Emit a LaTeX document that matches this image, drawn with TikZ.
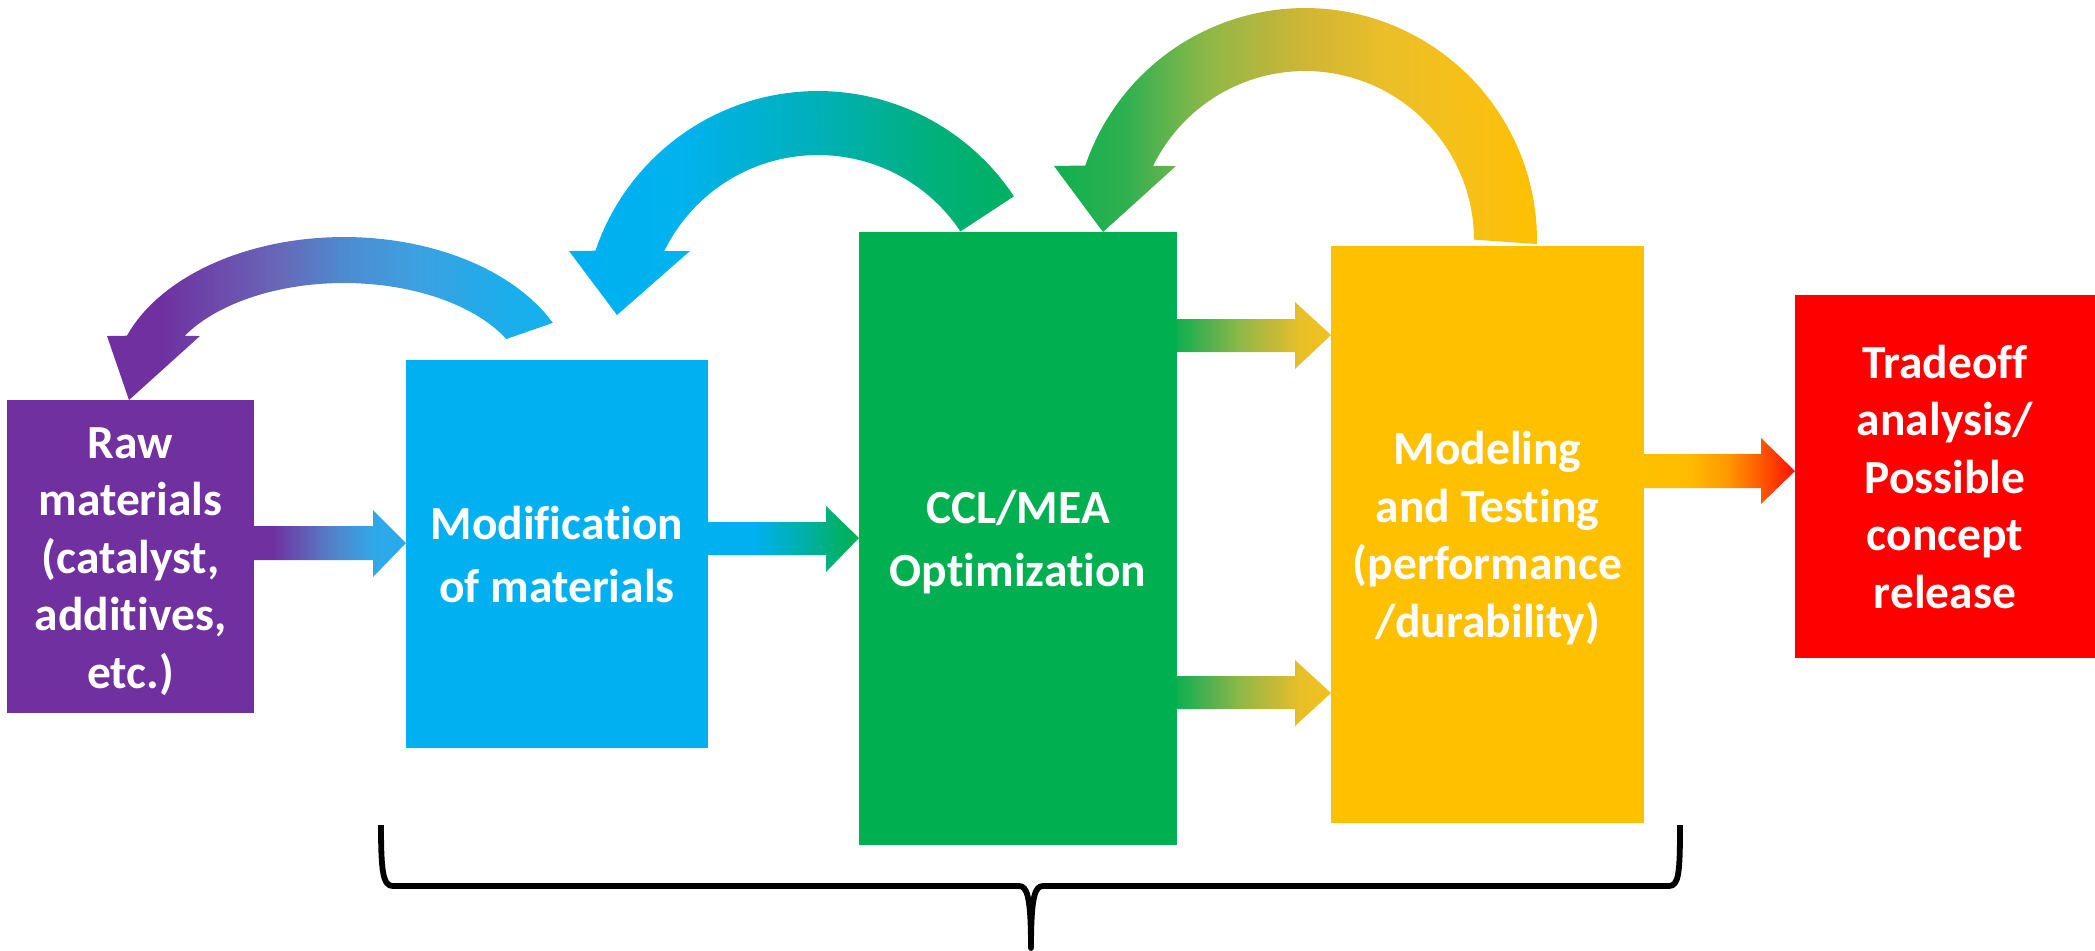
\documentclass[tikz,border=0pt]{standalone}
\usepackage{fontspec}
\setmainfont{Carlito}[Ligatures=CommonOff]
\definecolor{cpurple}{HTML}{7030A0}
\definecolor{cblue}{HTML}{00B0F0}
\definecolor{cgreen}{HTML}{00B050}
\definecolor{cyellow}{HTML}{FFC000}
\definecolor{cred}{HTML}{FF0000}
% gradient stops
\definecolor{pA2}{HTML}{5580C8}\definecolor{pA3}{HTML}{30A8E8}\definecolor{pA4}{HTML}{28AAEA}
\definecolor{bB2}{HTML}{00B0B0}\definecolor{bB3}{HTML}{00B062}\definecolor{bB4}{HTML}{00B058}
\definecolor{gC1}{HTML}{10B050}\definecolor{gC2}{HTML}{50B050}\definecolor{gC3}{HTML}{8CB848}
\definecolor{gC4}{HTML}{BDB93A}\definecolor{gC5}{HTML}{E8BF28}\definecolor{gC6}{HTML}{F2C020}
\definecolor{yD2}{HTML}{FFBC00}\definecolor{yD3}{HTML}{FF9800}\definecolor{yD4}{HTML}{FF6000}
\definecolor{yD5}{HTML}{FF3000}\definecolor{yD6}{HTML}{FF1000}
\definecolor{E2}{HTML}{6868B8}\definecolor{E3}{HTML}{4D8BD0}\definecolor{E4}{HTML}{3DA0E0}
\definecolor{E5}{HTML}{1AAEEC}\definecolor{E6}{HTML}{16B0EE}
\definecolor{F2}{HTML}{00B2EE}\definecolor{F3}{HTML}{00B0B8}\definecolor{F4}{HTML}{00B07C}\definecolor{F5}{HTML}{00B060}
\definecolor{G2}{HTML}{30B050}\definecolor{G3}{HTML}{90B848}\definecolor{G4}{HTML}{D0B535}
\definecolor{G5}{HTML}{EBBF28}\definecolor{G6}{HTML}{FAC012}
\pgfdeclarehorizontalshading{shA}{100bp}{color(0bp)=(cpurple); color(31bp)=(cpurple); color(50bp)=(pA2); color(64bp)=(pA3); color(75bp)=(pA4); color(100bp)=(pA4)}
\pgfdeclarehorizontalshading{shB}{100bp}{color(0bp)=(cblue); color(40bp)=(cblue); color(55bp)=(bB2); color(70bp)=(bB3); color(75bp)=(bB4); color(100bp)=(bB4)}
\pgfdeclarehorizontalshading{shC}{100bp}{color(0bp)=(gC1); color(25bp)=(gC1); color(35bp)=(gC2); color(45bp)=(gC3); color(55bp)=(gC4); color(65bp)=(gC5); color(75bp)=(gC6); color(100bp)=(gC6)}
\pgfdeclarehorizontalshading{shD}{100bp}{color(0bp)=(cyellow); color(25bp)=(cyellow); color(40bp)=(yD2); color(52.5bp)=(yD3); color(62.5bp)=(yD4); color(70bp)=(yD5); color(75bp)=(yD6); color(100bp)=(yD6)}
\pgfdeclarehorizontalshading{shE}{100bp}{color(0bp)=(cpurple); color(31bp)=(cpurple); color(44.5bp)=(E2); color(51.5bp)=(E3); color(59.5bp)=(E4); color(70bp)=(E5); color(75bp)=(E6); color(100bp)=(E6)}
\pgfdeclarehorizontalshading{shF}{100bp}{color(0bp)=(cblue); color(25bp)=(cblue); color(37.5bp)=(F2); color(53bp)=(F3); color(65.5bp)=(F4); color(75bp)=(F5); color(100bp)=(F5)}
\pgfdeclarehorizontalshading{shG}{100bp}{color(0bp)=(gC1); color(25bp)=(gC1); color(32.5bp)=(G2); color(41bp)=(G3); color(51bp)=(G4); color(59.5bp)=(G5); color(70bp)=(G6); color(75bp)=(cyellow); color(100bp)=(cyellow)}
\newcommand{\lnstrut}{\rule[-7pt]{0pt}{30.55pt}}
\tikzset{
  box/.style={inner sep=0pt, outer sep=0pt, text=white, align=center,
    font=\bfseries\fontsize{23.75}{28.75}\selectfont},
  brace/.style={line width=2.9pt, line join=round, draw=black}
}
\begin{document}
\begin{tikzpicture}[x=0.5pt, y=-0.5pt]
\useasboundingbox (0,0) rectangle (2095,950);

% boxes
\node[box, fill=cpurple, minimum width=123.5pt, minimum height=156.5pt] (raw) at (130.5,556.5)
  {\lnstrut Raw\\materials\\(catalyst,\\additives,\\etc.)\lnstrut};
\node[box, fill=cblue, minimum width=151pt, minimum height=194pt] (mod) at (557,554)
  {\lnstrut Modification\\of materials\lnstrut};
\node[box, fill=cgreen, minimum width=159pt, minimum height=306.5pt] (ccl) at (1018,538.5)
  {\lnstrut CCL/MEA\\Optimization\lnstrut};
\node[box, fill=cyellow, minimum width=156.5pt, minimum height=288.5pt] (model) at (1487.5,534.5)
  {\lnstrut Modeling\\and Testing\\(performance\\/durability)\lnstrut};
\node[box, fill=cred, minimum width=150pt, minimum height=181.5pt] (trade) at (1945,476.5)
  {\lnstrut Tradeoff\\analysis/\\Possible\\concept\\release\lnstrut};

% straight block arrows
\shade[shading=shA] (raw.east |- 0,526) -- (373,526) -- (373,510) -- (mod.west |- 0,543)
  -- (373,577) -- (373,560) -- (raw.east |- 0,560) -- cycle;
\shade[shading=shB] (mod.east |- 0,522) -- (826,522) -- (826,506) -- (ccl.west |- 0,538)
  -- (826,572) -- (826,555) -- (mod.east |- 0,555) -- cycle;
\shade[shading=shC] (ccl.east |- 0,319) -- (1295,319) -- (1295,302) -- (model.west |- 0,335)
  -- (1295,369) -- (1295,352) -- (ccl.east |- 0,352) -- cycle;
\shade[shading=shC] (ccl.east |- 0,676) -- (1295,676) -- (1295,660) -- (model.west |- 0,693)
  -- (1295,726) -- (1295,709) -- (ccl.east |- 0,709) -- cycle;
\shade[shading=shD] (model.east |- 0,454) -- (1761,454) -- (1761,438) -- (trade.west |- 0,471)
  -- (1761,504) -- (1761,488) -- (model.east |- 0,488) -- cycle;

% curved block arrows
\shade[shading=shE] (107,336) -- (raw.north west -| 129,0) -- (200,336)
  -- plot[domain=0:1,samples=60] ({344+183*cos(209.4+123.2*\x)},{387+104*sin(209.4+123.2*\x)})
  -- plot[domain=0:1,samples=60] ({344+231*cos(334.7-134.8*\x)},{387+150*sin(334.7-134.8*\x)})
  -- cycle;
\shade[shading=shF] (569,251) -- (617,315) -- (690,251)
  -- plot[domain=0:1,samples=60] ({818+171*cos(206+120.5*\x)},{326+171*sin(206+120.5*\x)})
  -- plot[domain=0:1,samples=60] ({818+235*cos(326.5-127.9*\x)},{326+235*sin(326.5-127.9*\x)})
  -- cycle;
\shade[shading=shG] (1054,166) -- (ccl.north west -| 1103,0) -- (1176,166)
  -- plot[domain=0:1,samples=70] ({1305+169*cos(206+154*\x)},{240+169*sin(206+154*\x)})
  -- plot[domain=0:1,samples=70] ({1305+232*cos(361-162.4*\x)},{240+232*sin(361-162.4*\x)})
  -- cycle;

% brace
\draw[brace] (381,825) .. controls (381,872) and (383,886) .. (393,886) -- (1019,886)
  .. controls (1027,886) and (1031,896) .. (1031,948)
  .. controls (1031,896) and (1035,886) .. (1043,886) -- (1669,886)
  .. controls (1679,886) and (1680,872) .. (1680,825);
\end{tikzpicture}
\end{document}
